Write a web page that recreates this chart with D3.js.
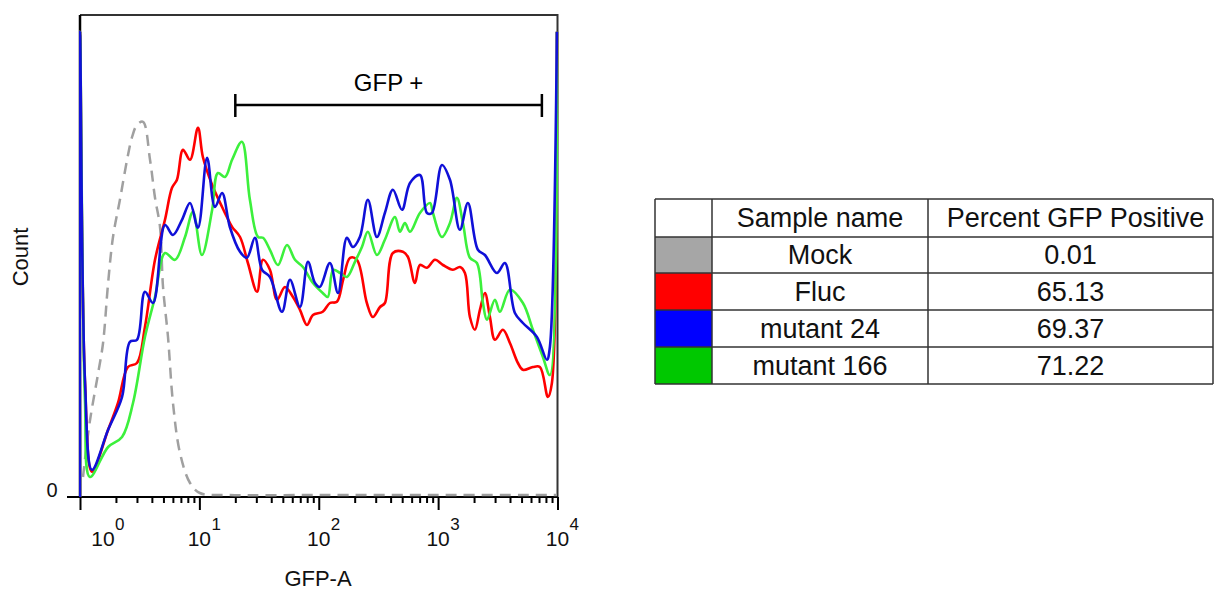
<!DOCTYPE html>
<html>
<head>
<meta charset="utf-8">
<script src="https://cdn.jsdelivr.net/npm/d3@7"></script>
<style>
body { margin: 0; background: #fff; }
svg { display: block; font-family: "Liberation Sans", Arial, sans-serif; }
</style>
</head>
<body>
<svg id="chart" width="1214" height="591"></svg>
<script>
// histogram points: [GFP-A, count]
const mock = [
  [1.06, 5], [1.10, 9.3], [1.21, 19], [1.42, 31], [1.56, 38.5], [1.72, 53.5], [1.89, 65],
  [2.16, 74.3], [2.48, 84.3], [2.73, 90], [3.00, 93], [3.37, 93.8], [3.86, 84.3], [4.25, 74.8],
  [4.68, 67.5], [4.96, 52.5], [5.46, 40], [6.01, 23.5], [6.88, 11], [8.35, 3.5], [10.1, 1],
  [18.0, 0.5], [100, 0.5], [1000, 0.5], [9885, 0.5]
];
const fluc = [
  [1, 0], [1, 116.3], [1.10, 29], [1.26, 6.3], [1.72, 16.8], [2.08, 23.5], [2.52, 32.5], [3.00, 33.5],
  [3.50, 42.5], [4.25, 59.3], [5.15, 69.3], [5.90, 77.3], [6.49, 79.3], [7.29, 86.8], [8.35, 84.3],
  [9.73, 92.3], [10.7, 85], [12.8, 78], [15.5, 72.5], [17.0, 70], [18.8, 67.5], [21.9, 65],
  [25.5, 58.5], [30.4, 51.3], [34.1, 59.3], [39.0, 56.8], [44.7, 49.3], [52.1, 52.5], [60.8, 50],
  [69.6, 46.8], [79.7, 43], [89.4, 45.5], [108, 46.3], [124, 48.5], [142, 48.8], [160, 54.3],
  [183, 59.8], [209, 59.3], [253, 48.5], [284, 45], [326, 47.5], [358, 48.5], [418, 61], [507, 61.3],
  [559, 60], [639, 53.5], [704, 58], [806, 57.3], [940, 59.3], [1097, 58], [1330, 56.8], [1522, 57.5],
  [1677, 56], [1846, 45], [2033, 41.8], [2239, 46.8], [2466, 51], [2716, 45], [2991, 39.3],
  [3489, 41.8], [3993, 38.5], [4660, 33.5], [5132, 31.8], [6223, 32.5], [7123, 32.5], [8310, 25],
  [8977, 28.5], [9885, 116.3]
];
const mutant24 = [
  [1, 0], [1, 116.3], [1.10, 29.3], [1.26, 6.8], [1.72, 16.8], [2.25, 25], [2.62, 38.8], [3.00, 39.3],
  [3.50, 51.3], [4.09, 48.5], [5.15, 68], [6.01, 65.5], [7.15, 69.3], [8.35, 73.5], [9.73, 67.3],
  [11.6, 84.8], [13.5, 72.5], [15.5, 76], [18.0, 67.5], [21.9, 61.3], [25.0, 59.8], [29.2, 64.8],
  [33.5, 56.8], [39.0, 55], [49.2, 46.3], [57.4, 54.3], [69.6, 47.5], [81.2, 58.8], [93.0, 53.5],
  [102, 52.5], [124, 58.5], [145, 51], [172, 64.8], [193, 62.5], [221, 65], [258, 74.3], [307, 65],
  [358, 71], [418, 76.8], [498, 71.8], [581, 78.5], [704, 80.5], [806, 71], [887, 71], [1076, 83],
  [1256, 79.3], [1522, 66.8], [1776, 73.5], [2154, 61.8], [2466, 60.5], [3108, 56], [3626, 58.5],
  [4397, 46], [5132, 43.5], [6722, 40], [8149, 34.3], [8636, 37.5], [9885, 116.3]
];
const mutant166 = [
  [1, 0], [1, 116.3], [1.10, 24.3], [1.21, 5], [1.72, 12.5], [2.25, 15], [2.78, 23.5], [3.50, 40],
  [4.25, 50], [5.15, 61], [6.25, 59.3], [7.58, 65], [8.84, 71.3], [10.5, 60.5], [12.8, 71.8],
  [14.3, 81], [16.4, 80], [18.8, 84.3], [22.7, 88.8], [26.5, 74.3], [31.0, 65], [34.1, 64.8],
  [39.0, 61.8], [45.5, 58], [54.2, 63], [63.2, 59.3], [73.7, 57.5], [89.4, 53.5], [108, 51],
  [119, 50], [132, 56.8], [151, 56], [172, 55], [201, 58.8], [230, 62.5], [258, 66.3], [307, 60.5],
  [358, 64.3], [435, 70], [479, 66.3], [527, 68.5], [581, 66.3], [704, 71], [854, 73.5], [905, 71],
  [1076, 65], [1256, 68.5], [1437, 74.8], [1614, 68.5], [1846, 59.8], [2113, 58.5], [2373, 48.5],
  [2563, 44.3], [2991, 49.3], [3293, 46.3], [3993, 51.8], [5132, 48.5], [6223, 41.8], [7547, 35],
  [8636, 30.5], [9885, 116.3]
];

const decades = [1, 10, 100, 1000, 10000];
const exponents = ["0", "1", "2", "3", "4"];
const gate = [20, 7400];
const gateLabel = "GFP +";

const sampleNames = ["Mock", "Fluc", "mutant 24", "mutant 166"];
const percentPositive = ["0.01", "65.13", "69.37", "71.22"];
const tableHeader = ["", "Sample name", "Percent GFP Positive"];

const lineColors = ["#a0a0a0", "#ff0000", "#1010d8", "#3cf03c"];
const swatchColors = ["#a6a6a6", "#ff0000", "#0000ff", "#00c800"];

const svg = d3.select("#chart");
svg.append("rect").attr("width", 1214).attr("height", 591).attr("fill", "#fff");

const x = d3.scaleLog().domain([1, 10000]).range([80, 557.5]);
const y = d3.scaleLinear().domain([0, 120.5]).range([497, 15]);

// frame
svg.append("path")
  .attr("d", `M${x(1)},${y.range()[1]}H${x(10000)}V${y(0)}`)
  .attr("fill", "none").attr("stroke", "#333").attr("stroke-width", 2);

// ticks
const minor = [];
decades.slice(0, 4).forEach(d => { for (let k = 2; k <= 9; k++) minor.push(d * k); });

svg.append("g").attr("transform", `translate(0,${y(0)})`)
  .call(d3.axisBottom(x).tickValues(minor).tickSize(6).tickSizeOuter(0).tickFormat(""))
  .call(g => g.select(".domain").remove())
  .call(g => g.selectAll("line").attr("stroke", "#000").attr("stroke-width", 2));
svg.append("g").attr("transform", `translate(0,${y(0)})`)
  .call(d3.axisBottom(x).tickValues(decades).tickSize(13).tickSizeOuter(0).tickFormat(""))
  .call(g => g.select(".domain").remove())
  .call(g => g.selectAll("line").attr("stroke", "#000").attr("stroke-width", 2));

// decade labels 10^n
const lab = svg.append("g").attr("fill", "#111");
decades.forEach((d, i) => {
  const cx = x(d) + (i === 0 ? 23 : 0);
  lab.append("text").attr("x", cx).attr("y", 546).attr("text-anchor", "middle")
    .attr("font-size", 21).text("10");
  lab.append("text").attr("x", cx + 12).attr("y", 530).attr("font-size", 17).text(exponents[i]);
});

// axes lines
svg.append("line").attr("x1", 67).attr("x2", x(10000)).attr("y1", y(0)).attr("y2", y(0))
  .attr("stroke", "#000").attr("stroke-width", 2);
svg.append("line").attr("x1", x(1)).attr("x2", x(1)).attr("y1", y.range()[1]).attr("y2", y(0) + 1)
  .attr("stroke", "#000").attr("stroke-width", 2.5);

// curves
const line = d3.line().x(d => x(d[0])).y(d => y(d[1])).curve(d3.curveCatmullRom.alpha(0.5));
svg.append("defs").append("clipPath").attr("id", "clip")
  .append("rect").attr("x", 79).attr("y", 15).attr("width", 480).attr("height", 483);
const plot = svg.append("g").attr("clip-path", "url(#clip)");

plot.append("path").datum(mock).attr("d", line)
  .attr("fill", "none").attr("stroke", lineColors[0]).attr("stroke-width", 2.5)
  .attr("stroke-dasharray", "11,7");
[[fluc, 1], [mutant166, 3], [mutant24, 2]].forEach(([s, c]) => {
  plot.append("path").datum(s).attr("d", line)
    .attr("fill", "none").attr("stroke", lineColors[c]).attr("stroke-width", 2.6)
    .attr("stroke-linejoin", "round");
});

svg.append("text").attr("x", 52).attr("y", 497).attr("text-anchor", "middle")
  .attr("font-size", 20).attr("fill", "#111").text("0");

svg.append("text").attr("x", 318).attr("y", 586).attr("text-anchor", "middle")
  .attr("font-size", 22).attr("fill", "#111").text("GFP-A");
svg.append("text").attr("transform", "translate(28,257) rotate(-90)").attr("text-anchor", "middle")
  .attr("font-size", 22).attr("fill", "#111").text("Count");

// gate
const gy = 105;
svg.append("path")
  .attr("d", `M${x(gate[0])},${gy - 11}V${gy + 12}M${x(gate[0])},${gy}H${x(gate[1])}M${x(gate[1])},${gy - 11}V${gy + 12}`)
  .attr("fill", "none").attr("stroke", "#000").attr("stroke-width", 2.5);
svg.append("text").attr("x", (x(gate[0]) + x(gate[1])) / 2).attr("y", 91)
  .attr("text-anchor", "middle").attr("font-size", 24).attr("fill", "#000").text(gateLabel);

// table
const colX = [655, 712, 928, 1213];
const rowY = [199, 237, 273, 310, 347, 384];
const tbl = svg.append("g");
sampleNames.forEach((n, i) => {
  tbl.append("rect").attr("x", colX[0]).attr("y", rowY[i + 1])
    .attr("width", colX[1] - colX[0]).attr("height", rowY[i + 2] - rowY[i + 1])
    .attr("fill", swatchColors[i]);
});
rowY.forEach(ry => tbl.append("line").attr("x1", colX[0]).attr("x2", colX[3]).attr("y1", ry).attr("y2", ry)
  .attr("stroke", "#333").attr("stroke-width", 1.5));
colX.forEach(cx => tbl.append("line").attr("x1", cx).attr("x2", cx).attr("y1", rowY[0]).attr("y2", rowY[5])
  .attr("stroke", "#333").attr("stroke-width", 1.5));

const rows = [tableHeader].concat(sampleNames.map((n, i) => ["", n, percentPositive[i]]));
rows.forEach((r, i) => {
  const cy = (rowY[i] + rowY[i + 1]) / 2;
  [1, 2].forEach(c => {
    tbl.append("text").attr("x", (colX[c] + colX[c + 1]) / 2 + (c === 2 && i === 0 ? 5 : 0))
      .attr("y", cy + 9).attr("text-anchor", "middle")
      .attr("font-size", 27).attr("fill", "#111").text(r[c]);
  });
});
</script>
</body>
</html>
